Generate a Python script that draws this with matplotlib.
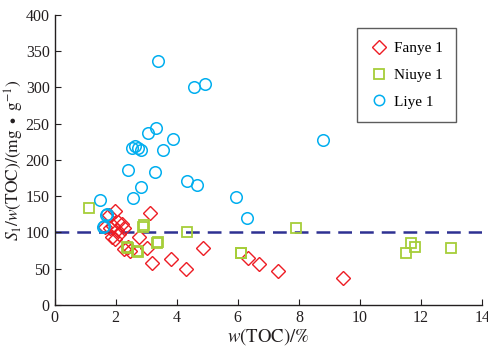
import matplotlib
matplotlib.use("Agg")
import matplotlib.pyplot as plt

plt.rcParams['font.family'] = ['Liberation Serif', 'DejaVu Serif']
plt.rcParams['mathtext.fontset'] = 'stix'

# Fanye 1 (diamonds)
fanye_x = [1.98, 1.77, 3.13, 2.09, 2.20, 1.93, 1.80, 2.04, 1.87, 1.98, 2.75, 2.26, 2.48,
           3.02, 3.19, 3.82, 4.31, 4.86, 6.35, 6.70, 7.30, 9.46, 2.10, 1.66, 2.26, 2.40]
fanye_y = [130, 124, 127, 115, 112, 109, 106, 103, 94, 91, 94, 77, 74,
           79, 58, 63, 50, 78, 65, 56, 47, 37, 98, 108, 106, 80]

# Niuye 1 (squares)
niuye_x = [1.14, 2.90, 2.92, 4.33, 3.36, 3.38, 2.37, 2.40, 2.71, 2.74, 6.10, 6.12,
           7.89, 11.66, 11.80, 11.51, 12.97]
niuye_y = [133, 108, 110, 100, 86, 87, 80, 79, 74, 73, 71, 72,
           106, 86, 80, 72, 78]

# Liye 1 (circles)
liye_x = [3.40, 4.57, 4.92, 3.06, 3.32, 3.87, 2.53, 2.64, 2.73, 2.83, 3.55, 2.39,
          3.28, 2.84, 4.33, 4.68, 2.57, 1.50, 5.95, 6.30, 8.80, 1.69, 1.72, 1.60, 1.62]
liye_y = [336, 300, 305, 237, 244, 229, 217, 219, 217, 213, 213, 186,
          183, 162, 171, 165, 147, 145, 149, 120, 227, 124, 126, 107, 109]

ref_y = 100

x_ticks = list(range(0, 15, 2))
y_ticks = list(range(0, 401, 50))

fig = plt.figure(figsize=(4.89, 3.47), dpi=100)
ax = fig.add_axes([0.1115, 0.121, 0.8745, 0.8366])

ax.axhline(ref_y, color='#2E3192', lw=1.8, ls=(0, (5.5, 3.2)), zorder=1)

ax.plot(fanye_x, fanye_y, ls='none', marker='D', ms=7.6, mfc='none', mec='#ED1C24',
        mew=1.0, label='Fanye 1', zorder=3)
ax.plot(niuye_x, niuye_y, ls='none', marker='s', ms=7.5, mfc='none', mec='#A6CE39',
        mew=1.3, label='Niuye 1', zorder=3)
ax.plot(liye_x, liye_y, ls='none', marker='o', ms=8.3, mfc='none', mec='#00AEEF',
        mew=1.1, label='Liye 1', zorder=3)

ax.set_xlim(0, 14)
ax.set_ylim(0, 400)
ax.set_xticks(x_ticks)
ax.set_yticks(y_ticks)
ax.tick_params(direction='in', length=4, width=0.8, labelsize=11.5, colors='#231F20')
for s in ['top', 'right']:
    ax.spines[s].set_visible(False)
for s in ['left', 'bottom']:
    ax.spines[s].set_linewidth(1.0)
    ax.spines[s].set_color('#231F20')

ax.set_xlabel(r'$w\mathrm{(TOC)/\%}$', fontsize=13.5, labelpad=0, color='#231F20')
ax.set_ylabel(r'$S_1/w\mathrm{(TOC)/(mg}\ \bullet\ \mathrm{g^{-1})}$', fontsize=12.5,
              labelpad=0, color='#231F20')

leg = ax.legend(loc='upper right', bbox_to_anchor=(0.94, 0.955), frameon=True,
                fancybox=False, edgecolor='#333333', fontsize=11, labelspacing=0.85,
                handlelength=1.1, handletextpad=0.4, borderpad=0.9, borderaxespad=0,
                markerscale=0.9)
leg.get_frame().set_linewidth(1.0)

fig.savefig('out.png', dpi=100)
